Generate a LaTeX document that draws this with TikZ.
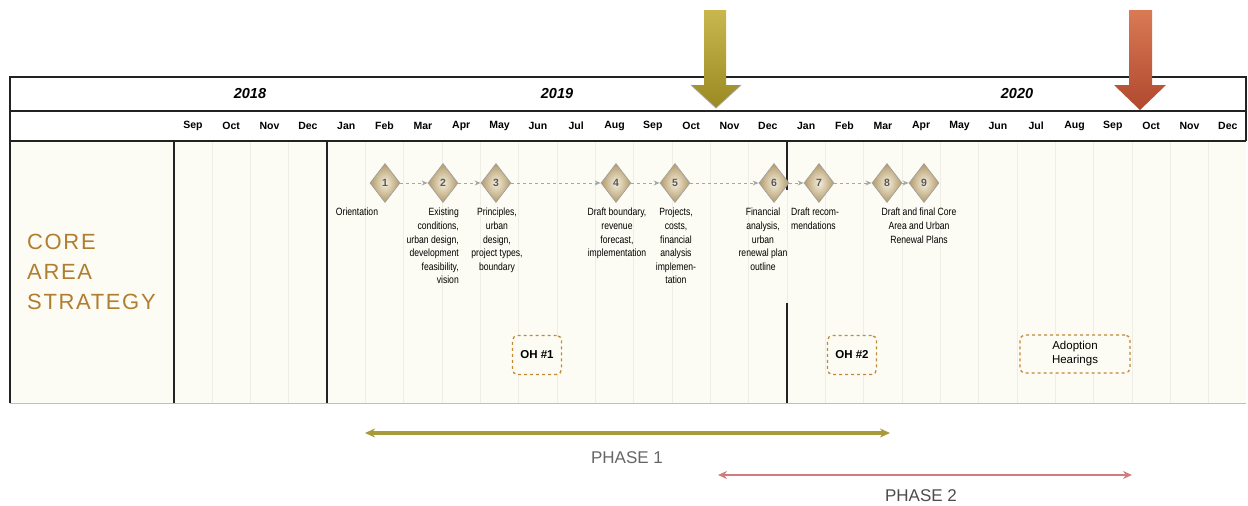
\documentclass[tikz,border=0pt]{standalone}
\usepackage{fontspec}
\setmainfont{Liberation Sans}
\newfontfamily\nar{Liberation Sans}[FakeStretch=0.82]
\newfontfamily\corefont{Liberation Sans}[LetterSpace=7.5]
\usetikzlibrary{shapes.geometric,arrows.meta}
\definecolor{cream}{HTML}{FDFCF4}
\definecolor{gridc}{HTML}{EFEEE6}
\definecolor{tline}{HTML}{222222}
\definecolor{goldA}{HTML}{C9B64E}
\definecolor{goldB}{HTML}{9A8A22}
\definecolor{redA}{HTML}{D97A55}
\definecolor{redB}{HTML}{B0482E}
\definecolor{diaIn}{HTML}{F4EEDD}
\definecolor{diaOut}{HTML}{B39A68}
\definecolor{ohc}{HTML}{C08A3A}
\definecolor{corec}{HTML}{B07E30}
\definecolor{ph1}{HTML}{A89A3A}
\definecolor{ph2}{HTML}{D07C7C}
\begin{document}
\begin{tikzpicture}[x=1pt,y=-1pt,
  tbl/.style={line width=2.2pt,draw=tline},
  gridl/.style={line width=0.8pt,draw=gridc},
  mon/.style={font=\bfseries\fontsize{10.5}{11}\selectfont,inner sep=0},
  yr/.style={font=\bfseries\itshape\fontsize{14.5}{15}\selectfont,inner sep=0},
  dia/.style={shape=diamond,inner sep=0,minimum width=30pt,minimum height=39pt,
    draw=gray!75,line width=0.7pt,inner color=diaIn,outer color=diaOut,
    font=\bfseries\fontsize{10.5}{11}\selectfont,text=black!65},
  conn/.style={draw=gray!70,dashed,line width=0.9pt,-{Stealth[open,length=6pt,width=5pt]}},
  lbl/.style={font=\nar\fontsize{10.5}{13.6}\selectfont,inner sep=0,anchor=north},
  oh/.style={draw=ohc,dashed,line width=1.3pt,rounded corners=5pt,fill=cream,
    inner sep=0,font=\bfseries\fontsize{11.5}{13}\selectfont},
  phasetxt/.style={font=\fontsize{17}{18}\selectfont,inner sep=0}
]
\useasboundingbox (0,0) rectangle (1248,506);
% body background
\fill[cream] (10,141) rectangle (1246,403);
% faint month grid
\foreach \k in {1,...,27}{
  \draw[gridl] (173.7+\k*38.33,141) -- (173.7+\k*38.33,403);
}
% table lines
\draw[tbl] (10,403) -- (10,77) -- (1246,77) -- (1246,141);
\draw[tbl] (10,111) -- (1246,111);
\draw[tbl] (10,141) -- (1246,141);
\draw[line width=0.8pt,draw=gray!50] (10,403) -- (1246,403);
\draw[tbl] (173.7,141) -- (173.7,403);
\draw[tbl] (327,141) -- (327,403);
\draw[tbl] (787,141) -- (787,190);
\draw[tbl] (787,303) -- (787,403);
% years
\node[yr] (y18) at (250,94) {2018};
\node[yr] (y19) at (557,94) {2019};
\node[yr] (y20) at (1017,94) {2020};
% months
\foreach \m [count=\i from 0] in {Sep,Oct,Nov,Dec,Jan,Feb,Mar,Apr,May,Jun,Jul,Aug,Sep,Oct,Nov,Dec,Jan,Feb,Mar,Apr,May,Jun,Jul,Aug,Sep,Oct,Nov,Dec}{
  \node[mon] (m\i) at (192.9+\i*38.33,126) {\m};
}
% top arrows
\shade[top color=goldA,bottom color=goldB]
  (704,10) -- (726,10) -- (726,85) -- (741,85) -- (716,108) -- (691,85) -- (704,85) -- cycle;
\draw[gray!70,line width=0.8pt] (691,85) -- (716,108) -- (741,85);
\shade[top color=redA,bottom color=redB]
  (1129,10) -- (1152,10) -- (1152,85) -- (1166,85) -- (1140,110) -- (1114,85) -- (1129,85) -- cycle;
% left label
\node[font=\corefont\fontsize{22}{30}\selectfont,text=corec,align=left,inner sep=0,anchor=north west]
  (core) at (27,234) {CORE\\AREA\\STRATEGY};
% diamonds
\node[dia] (d1) at (385,183) {1};
\node[dia] (d2) at (443,183) {2};
\node[dia] (d3) at (496,183) {3};
\node[dia] (d4) at (616,183) {4};
\node[dia] (d5) at (675,183) {5};
\node[dia] (d6) at (774,183) {6};
\node[dia] (d7) at (819,183) {7};
\node[dia] (d8) at (887,183) {8};
\node[dia] (d9) at (924,183) {9};
\draw[conn] (d1) -- (d2);
\draw[conn] (d2) -- (d3);
\draw[conn] (d3) -- (d4);
\draw[conn] (d4) -- (d5);
\draw[conn] (d5) -- (d6);
\draw[conn] (d6) -- (d7);
\draw[conn] (d7) -- (d8);
\draw[conn] (d8) -- (d9);
% labels
\node[lbl,align=center] (t1) at (357,208) {Orientation};
\node[lbl,align=right,anchor=north east] (t2) at (459,208) {Existing\\conditions,\\urban design,\\development\\feasibility,\\vision};
\node[lbl,align=center] (t3) at (497,208) {Principles,\\urban\\design,\\project types,\\boundary};
\node[lbl,align=center] (t4) at (617,208) {Draft boundary,\\revenue\\forecast,\\implementation};
\node[lbl,align=center] (t5) at (676,208) {Projects,\\costs,\\financial\\analysis\\implemen-\\tation};
\node[lbl,align=center] (t6) at (763,208) {Financial\\analysis,\\urban\\renewal plan\\outline};
\node[lbl,align=left,anchor=north west] (t7) at (791,208) {Draft recom-\\mendations};
\node[lbl,align=center] (t8) at (919,208) {Draft and final Core\\Area and Urban\\Renewal Plans};
% OH boxes
\node[oh,minimum width=49pt,minimum height=39pt] (oh1) at (537,355) {OH \#1};
\node[oh,minimum width=49pt,minimum height=39pt] (oh2) at (852,355) {OH \#2};
\node[oh,minimum width=110pt,minimum height=38pt,align=center,font=\fontsize{11.5}{14}\selectfont] (adopt) at (1075,354) {Adoption\\Hearings};
% phases
\coordinate (p1a) at (365,433);
\coordinate (p1b) at (890,433);
\draw[ph1,line width=3.2pt,{Stealth[length=10pt,width=9pt]}-{Stealth[length=10pt,width=9pt]}] (p1a) -- (p1b);
\node[phasetxt,text=black!60] (ph1t) at (627,458) {PHASE 1};
\coordinate (p2a) at (718,475);
\coordinate (p2b) at (1132,475);
\draw[ph2,line width=1.6pt,{Stealth[open,length=9pt,width=8pt]}-{Stealth[open,length=9pt,width=8pt]}] (p2a) -- (p2b);
\node[phasetxt,text=black!70] (ph2t) at (921,496) {PHASE 2};
\end{tikzpicture}
\end{document}
